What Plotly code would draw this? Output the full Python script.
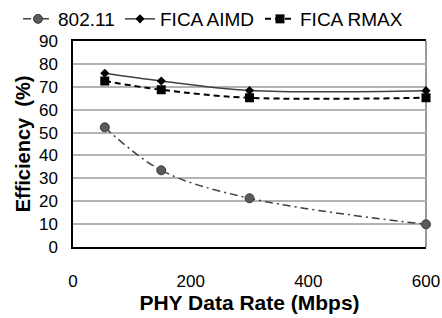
import plotly.graph_objects as go

rates = [54, 150, 300, 600]
eff_80211 = [52.3, 33.5, 21.3, 9.9]
eff_aimd = [75.9, 72.5, 68.4, 68.3]
eff_rmax = [72.5, 68.7, 65.2, 65.2]

x_ticks = [0, 200, 400, 600]
y_ticks = list(range(0, 91, 10))

FONT = "Liberation Sans, Arial, sans-serif"
W, H = 442, 318

fig = go.Figure()
fig.add_trace(go.Scatter(
    x=rates, y=eff_80211, name="802.11", mode="lines+markers", cliponaxis=False, legend="legend",
    line=dict(color="#404040", width=1.5, dash="8px,4px,2px,4px", shape="spline"),
    marker=dict(symbol="circle", size=9, color="#5a5a5a", line=dict(color="#3a3a3a", width=1)),
))
fig.add_trace(go.Scatter(
    x=rates, y=eff_aimd, name="FICA AIMD", mode="lines+markers", cliponaxis=False, legend="legend2",
    line=dict(color="#404040", width=1.5, shape="spline"),
    marker=dict(symbol="diamond", size=7, color="#000000"),
))
fig.add_trace(go.Scatter(
    x=rates, y=eff_rmax, name="FICA RMAX", mode="lines+markers", cliponaxis=False, legend="legend3",
    line=dict(color="#000000", width=2, dash="6px,4px", shape="spline"),
    marker=dict(symbol="square", size=9, color="#000000"),
))

fig.add_shape(type="line", xref="paper", yref="paper", x0=1, x1=1, y0=0, y1=1,
              line=dict(color="#9a9a9a", width=2), layer="below")

def leg(xpx):
    return dict(orientation="h", xref="container", x=xpx / W, xanchor="left",
                yref="container", y=1.0, yanchor="top",
                font=dict(size=19), itemwidth=30, bgcolor="rgba(0,0,0,0)")

fig.update_layout(
    width=W, height=H,
    margin=dict(l=73, r=16, t=41, b=71, autoexpand=False),
    paper_bgcolor="white", plot_bgcolor="white",
    font=dict(family=FONT, size=17, color="#000000"),
    showlegend=True,
    legend=leg(18), legend2=leg(120), legend3=leg(260),
    xaxis=dict(range=[0, 600], tickvals=x_ticks, showgrid=False, zeroline=False,
               showline=True, linecolor="#000000", linewidth=1.5, mirror=True,
               ticks="", ticklabelstandoff=18, automargin=False,
               tickfont=dict(size=17),
               title=dict(text="<b>PHY Data Rate (Mbps)</b>", font=dict(size=21), standoff=4)),
    yaxis=dict(range=[0, 90], tickvals=y_ticks, showgrid=True, gridcolor="#b3b3b3", gridwidth=1.5,
               zeroline=False, showline=True, linecolor="#000000", linewidth=1.5,
               ticks="", ticklabelstandoff=10, tickfont=dict(size=17), automargin=False,
               title=dict(text="<b>Efficiency  (%)</b>", font=dict(size=20), standoff=3)),
)

fig.write_html("out.html", config={"displayModeBar": False},
               post_script="document.body.style.margin='0';document.body.style.overflow='hidden';")
